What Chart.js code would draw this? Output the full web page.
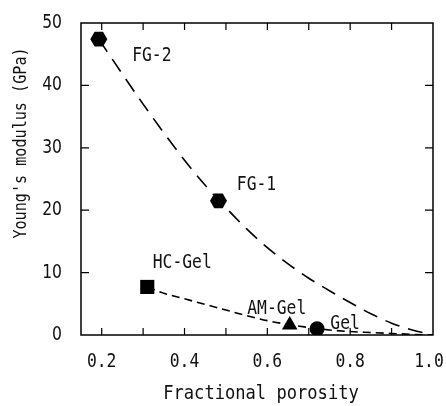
<!DOCTYPE html>
<html>
<head>
<meta charset="utf-8">
<script src="https://cdn.jsdelivr.net/npm/chart.js@4.4.0/dist/chart.umd.min.js"></script>
<style>
  html, body { margin: 0; padding: 0; background: #fff; }
</style>
</head>
<body>
<canvas id="youngChart" width="446" height="406"></canvas>
<script>
// measured samples
const sampleNames = ["FG-2", "FG-1", "HC-Gel", "AM-Gel", "Gel"];
const porosity = [0.193, 0.482, 0.31, 0.654, 0.72];
const modulus = [47.4, 21.5, 7.7, 1.6, 1.0];

// dashed fit curves
const upperFitX = [0.193, 0.25, 0.3, 0.35, 0.4, 0.45, 0.5, 0.55, 0.6, 0.65, 0.7, 0.75, 0.8, 0.85, 0.9, 0.95, 1.0];
const upperFitY = [47.4, 41.8, 37.0, 32.4, 28.0, 24.0, 20.4, 17.0, 14.0, 11.4, 9.1, 7.1, 5.2, 3.4, 1.9, 0.8, 0];
const lowerFitX = [0.31, 0.35, 0.4, 0.45, 0.5, 0.55, 0.6, 0.65, 0.7, 0.75, 0.8, 0.85, 0.9, 0.95, 1.0];
const lowerFitY = [7.7, 6.7, 5.8, 4.9, 4.0, 3.1, 2.3, 1.7, 1.2, 0.8, 0.55, 0.4, 0.25, 0.1, 0];

// axis ticks
const xTickLabels = [0.2, 0.4, 0.6, 0.8, 1.0];
const xMinorTicks = [0.2, 0.3, 0.4, 0.5, 0.6, 0.7, 0.8, 0.9];
const yTickLabels = [0, 10, 20, 30, 40, 50];
const yMinorTicks = [10, 20, 30, 40];

const MONO = "'DejaVu Sans Mono', monospace";
const SANS = "'DejaVu Sans', sans-serif";

// hexagons are not a Chart.js point style; those points are drawn by the plugin
const markerStyles = ["hexagon", "hexagon", "rect", "triangle", "circle"];
const markerRadius = [8.5, 8.5, 10, 9, 7.5];
// where each name sits relative to its marker (pixels)
const labelShift = [[53, 17], [38, -16], [35, -24], [-13, -16], [28, -5]];

const toPoints = (xs, ys) => xs.map((x, i) => ({ x: x, y: ys[i] }));

// text in the figure is narrow and tall, so squeeze it sideways
function tallText(ctx, text, x, y, font, sx, align) {
  ctx.save();
  ctx.translate(x, y);
  ctx.scale(sx, 1);
  ctx.font = font;
  ctx.textAlign = align || "center";
  ctx.textBaseline = "middle";
  ctx.fillText(text, 0, 0);
  ctx.restore();
}

const hexPlugin = {
  id: "hexMarkers",
  afterDatasetsDraw(chart) {
    const ctx = chart.ctx;
    const meta = chart.getDatasetMeta(2);
    ctx.save();
    ctx.fillStyle = "#000";
    meta.data.forEach((pt, i) => {
      if (markerStyles[i] !== "hexagon") return;
      const r = markerRadius[i];
      ctx.beginPath();
      for (let k = 0; k < 6; k++) {
        const ang = (Math.PI / 3) * k;
        const hx = pt.x + r * Math.cos(ang);
        const hy = pt.y + r * Math.sin(ang);
        if (k === 0) ctx.moveTo(hx, hy);
        else ctx.lineTo(hx, hy);
      }
      ctx.closePath();
      ctx.fill();
    });
    ctx.restore();
  },
};

const framePlugin = {
  id: "frame",
  afterDraw(chart) {
    const ctx = chart.ctx;
    const a = chart.chartArea;
    const xs = chart.scales.x;
    const ys = chart.scales.y;
    ctx.save();
    ctx.strokeStyle = "#000";
    ctx.fillStyle = "#111";
    ctx.lineWidth = 1.5;
    ctx.strokeRect(a.left, a.top, a.right - a.left, a.bottom - a.top);

    // inward ticks on all four sides
    ctx.lineWidth = 1.2;
    ctx.beginPath();
    xMinorTicks.forEach((v) => {
      const px = xs.getPixelForValue(v);
      ctx.moveTo(px, a.bottom);
      ctx.lineTo(px, a.bottom - 7);
      ctx.moveTo(px, a.top);
      ctx.lineTo(px, a.top + 7);
    });
    yMinorTicks.forEach((v) => {
      const py = ys.getPixelForValue(v);
      ctx.moveTo(a.left, py);
      ctx.lineTo(a.left + 8, py);
      ctx.moveTo(a.right, py);
      ctx.lineTo(a.right - 8, py);
    });
    ctx.stroke();

    // tick labels, last one kept inside the canvas
    xTickLabels.forEach((v) => {
      const px = Math.min(xs.getPixelForValue(v), chart.width - 17);
      tallText(ctx, v.toFixed(1), px, a.bottom + 27, "19px " + MONO, 0.86);
    });
    yTickLabels.forEach((v) => {
      tallText(ctx, String(v), a.left - 19, ys.getPixelForValue(v), "19px " + SANS, 0.82, "right");
    });

    // sample names
    sampleNames.forEach((name, i) => {
      const px = xs.getPixelForValue(porosity[i]) + labelShift[i][0];
      const py = ys.getPixelForValue(modulus[i]) + labelShift[i][1];
      tallText(ctx, name, px, py, "19px " + MONO, 0.86);
    });

    // axis titles
    tallText(ctx, "Fractional porosity", (a.left + a.right) / 2 + 4, 394, "19px " + MONO, 0.9);
    ctx.translate(21, 143);
    ctx.rotate(-Math.PI / 2);
    tallText(ctx, "Young's modulus (GPa)", 0, 0, "18px " + MONO, 0.84);
    ctx.restore();
  },
};

const ctx = document.getElementById("youngChart").getContext("2d");
new Chart(ctx, {
  type: "scatter",
  data: {
    datasets: [
      {
        label: "upper fit",
        data: toPoints(upperFitX, upperFitY),
        showLine: true,
        borderColor: "#000",
        borderWidth: 1.6,
        borderDash: [15, 9],
        pointRadius: 0,
        cubicInterpolationMode: "monotone",
      },
      {
        label: "lower fit",
        data: toPoints(lowerFitX, lowerFitY),
        showLine: true,
        borderColor: "#000",
        borderWidth: 1.6,
        borderDash: [8, 5],
        pointRadius: 0,
        cubicInterpolationMode: "monotone",
      },
      {
        label: "samples",
        data: toPoints(porosity, modulus),
        pointStyle: markerStyles.map((s) => (s === "hexagon" ? "circle" : s)),
        pointRadius: markerStyles.map((s, i) => (s === "hexagon" ? 0 : markerRadius[i])),
        backgroundColor: "#000",
        borderColor: "#000",
        borderWidth: 0,
      },
    ],
  },
  options: {
    responsive: false,
    animation: false,
    devicePixelRatio: 1,
    layout: { padding: { top: 23, right: 13, left: 0, bottom: 0 } },
    plugins: {
      legend: { display: false },
      tooltip: { enabled: false },
    },
    scales: {
      x: {
        type: "linear",
        min: 0.15,
        max: 1.0,
        afterBuildTicks: (scale) => {
          scale.ticks = xTickLabels.map((v) => ({ value: v }));
        },
        afterFit: (scale) => {
          scale.height = 71;
          scale.paddingLeft = 0;
          scale.paddingRight = 0;
        },
        ticks: { display: false },
        grid: { display: false, drawTicks: false },
        border: { display: false },
      },
      y: {
        type: "linear",
        min: 0,
        max: 50,
        afterBuildTicks: (scale) => {
          scale.ticks = yTickLabels.map((v) => ({ value: v }));
        },
        afterFit: (scale) => {
          scale.width = 81;
          scale.paddingTop = 0;
          scale.paddingBottom = 0;
        },
        ticks: { display: false },
        grid: { display: false, drawTicks: false },
        border: { display: false },
      },
    },
  },
  plugins: [hexPlugin, framePlugin],
});
</script>
</body>
</html>
